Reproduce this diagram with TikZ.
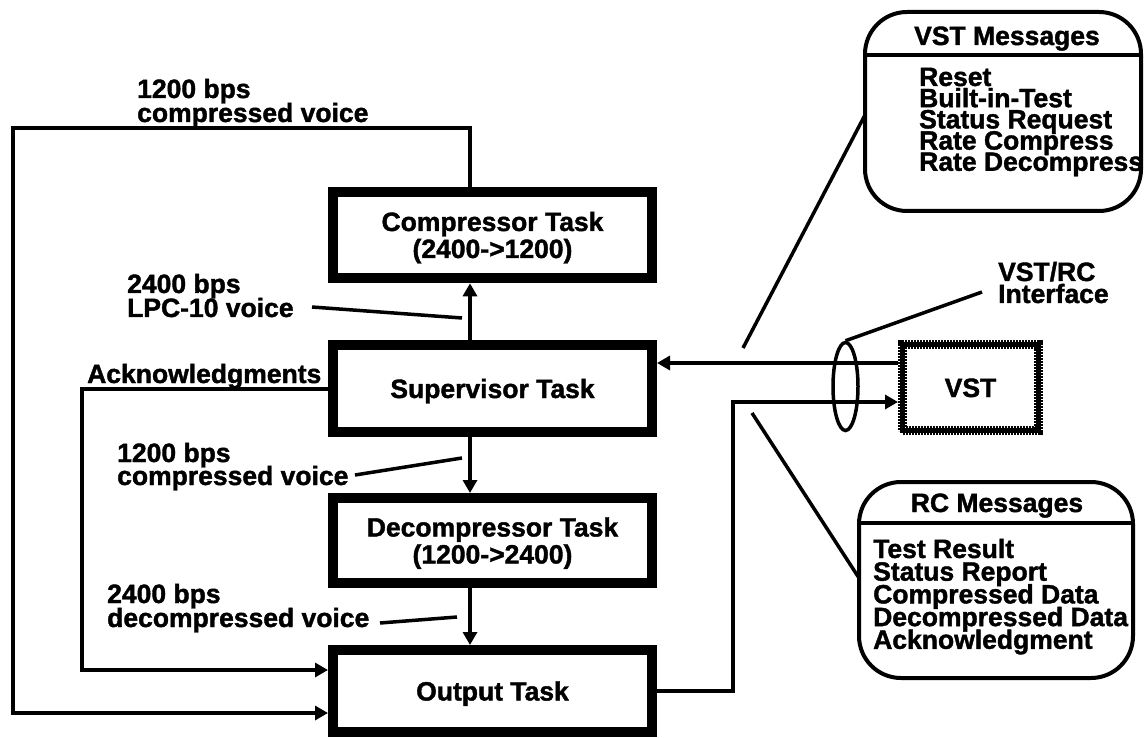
\documentclass[tikz,border=0pt]{standalone}
\usepackage{fontspec}
\setmainfont{Liberation Sans}[BoldFeatures={FakeBold=1.5}]
\usetikzlibrary{arrows.meta,shapes.geometric}
\newcommand\llines[2]{\vtop{\baselineskip=#1pt\lineskiplimit=-100pt\lineskip=0pt\halign{##\hfil\cr#2\crcr}}}
\newcommand\clines[2]{\vtop{\baselineskip=#1pt\lineskiplimit=-100pt\lineskip=0pt\halign{\hfil##\hfil\cr#2\crcr}}}
\begin{document}
\begin{tikzpicture}[x=1pt,y=-1pt,
  txt/.style={font=\fontsize{26.5}{27}\selectfont\bfseries, inner sep=0pt},
  task/.style={txt, draw, line width=10pt, minimum width=319pt, minimum height=86.6pt, text height=19pt, text depth=0pt},
  msg/.style={draw, line width=4pt, rounded corners=42pt, outer sep=0pt, inner sep=0pt},
  arr/.style={line width=4pt, -{Triangle[length=13pt,width=14pt]}},
  wire/.style={line width=4pt},
  leader/.style={line width=3.5pt}]
\useasboundingbox (0,0) rectangle (1144,738);

% task boxes
\node[task, text depth=27pt] (comp) at (492.5,235) {\clines{27}{Compressor Task\cr(2400->1200)}};
\node[task, minimum height=87pt] (sup) at (492.5,388.5) {Supervisor Task};
\node[task, text depth=27pt, minimum height=85pt] (dec) at (492.5,540.5) {\clines{27}{Decompressor Task\cr(1200->2400)}};
\node[task, minimum height=82pt] (out) at (492.5,691) {Output Task};

% VST box
\node[txt, draw, line width=9pt, dash pattern=on 2pt off 1pt, postaction={draw, solid, line width=5pt}, minimum width=136pt, minimum height=86pt, text height=19pt, text depth=0pt] (vst) at (970.5,387.5) {VST};

% interface ellipse
\node[ellipse, draw, line width=3.5pt, minimum width=25pt, minimum height=88pt, inner sep=0pt] (ell) at (845.5,386.5) {};

% message boxes
\node[msg, minimum width=276pt, minimum height=199pt] (vstm) at (1003,111.5) {};
\coordinate (vd) at (0,55);
\draw[wire] (vstm.west |- vd) -- (vstm.east |- vd);
\node[txt, anchor=base] (vstt) at (1007,45) {VST Messages};
\node[txt, anchor=base west] (vstl) at (919,86) {\llines{21.2}{Reset\cr Built-in-Test\cr Status Request\cr Rate Compress\cr Rate Decompress}};

\node[msg, minimum width=274pt, minimum height=196pt] (rcm) at (996,580) {};
\coordinate (rd) at (0,523);
\draw[wire] (rcm.west |- rd) -- (rcm.east |- rd);
\node[txt, anchor=base] (rct) at (997,512) {RC Messages};
\node[txt, anchor=base west] (rcl) at (873,558) {\llines{22.7}{Test Result\cr Status Report\cr Compressed Data\cr Decompressed Data\cr Acknowledgment}};

% labels
\node[txt, anchor=base west] (l1) at (137,98) {\llines{24}{1200 bps\cr compressed voice}};
\node[txt, anchor=base west] (l2) at (127,293) {\llines{24}{2400 bps\cr LPC-10 voice}};
\node[txt, anchor=base west] (ack) at (87,383) {Acknowledgments};
\node[txt, anchor=base west] (l3) at (117,462) {\llines{23}{1200 bps\cr compressed voice}};
\node[txt, anchor=base west] (l4) at (107,603) {\llines{24}{2400 bps\cr decompressed voice}};
\node[txt, anchor=base west] (ifl) at (998,281) {\llines{22}{VST/RC\cr Interface}};

% main flow
\coordinate (vx) at (470,0);
\draw[arr] (sup.north -| vx) -- (comp.south -| vx);
\draw[arr] (sup.south -| vx) -- (dec.north -| vx);
\draw[arr] (dec.south -| vx) -- (out.north -| vx);
\coordinate (tl) at (13,128);
\coordinate (bl) at (13,713);
\draw[arr] (comp.north -| vx) |- (tl) -- (bl) -- (out.west |- bl);
\coordinate (al) at (82,670);
\draw[arr] (sup.west) -| (al) -- (out.west |- al);
\coordinate (vy) at (0,363);
\draw[arr] (vst.west |- vy) -- (sup.east |- vy);
\coordinate (oc) at (733,402);
\draw[arr] (out.east) -| (oc) -- (vst.west |- oc);

% leaders
\coordinate (a1) at (312,307); \coordinate (a2) at (462,318);
\draw[leader] (a1) -- (a2);
\coordinate (b1) at (355,475); \coordinate (b2) at (462,458);
\draw[leader] (b1) -- (b2);
\coordinate (c1) at (380,623); \coordinate (c2) at (457,617);
\draw[leader] (c1) -- (c2);
\coordinate (m0) at (0,115); \coordinate (m1) at (743,348);
\draw[leader] (vstm.west |- m0) -- (m1);
\coordinate (n0) at (0,578); \coordinate (n1) at (752,413);
\draw[leader] (n1) -- (rcm.west |- n0);
\coordinate (i1) at (982,292);
\draw[leader] (ell.north) -- (i1);
\end{tikzpicture}
\end{document}
